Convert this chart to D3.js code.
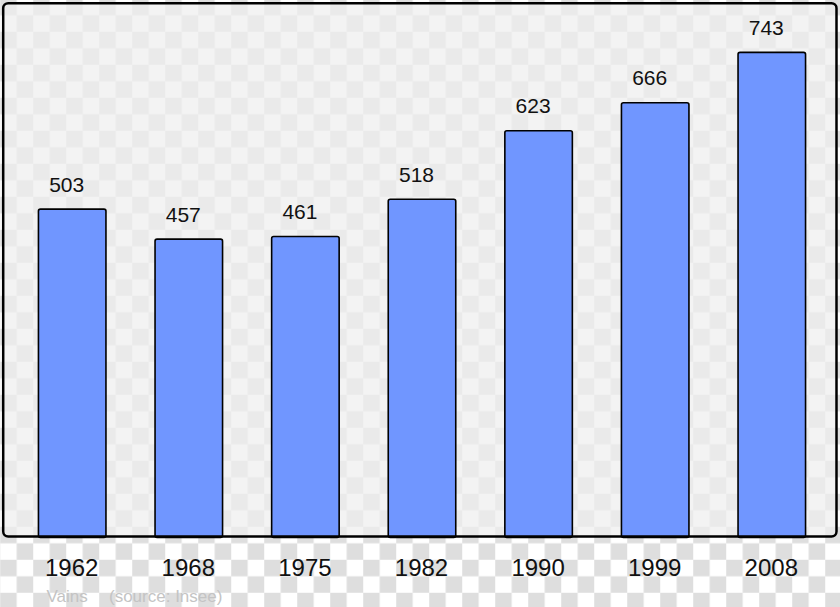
<!DOCTYPE html>
<html>
<head>
<meta charset="utf-8">
<script src="https://cdn.jsdelivr.net/npm/d3@7"></script>
<style>
  html, body { margin: 0; padding: 0; background: #fff; }
  svg { display: block; }
</style>
</head>
<body>
<svg id="chart" width="840" height="607"></svg>
<script>
const years = ["1962", "1968", "1975", "1982", "1990", "1999", "2008"];
const population = [503, 457, 461, 518, 623, 666, 743];
const placeName = "Vains";
const sourceNote = "(source: Insee)";

const W = 840, H = 607;
const svg = d3.select("#chart");
const defs = svg.append("defs");

function checker(id, light, dark) {
  const p = defs.append("pattern")
    .attr("id", id)
    .attr("patternUnits", "userSpaceOnUse")
    .attr("x", 0.2).attr("y", -1.2)
    .attr("width", 33).attr("height", 33);
  p.append("rect").attr("width", 33).attr("height", 33).attr("fill", light);
  p.append("rect").attr("x", 0).attr("y", 0).attr("width", 16.5).attr("height", 16.5).attr("fill", dark);
  p.append("rect").attr("x", 16.5).attr("y", 16.5).attr("width", 16.5).attr("height", 16.5).attr("fill", dark);
}
checker("outer", "#ffffff", "#dedede");
checker("inner", "#f3f3f3", "#eaeaea");

svg.append("rect").attr("width", W).attr("height", H).attr("fill", "url(#outer)");

const frame = { x: 3.2, y: 3.2, w: 833.3, h: 533.3 };
svg.append("rect")
  .attr("x", frame.x).attr("y", frame.y)
  .attr("width", frame.w).attr("height", frame.h)
  .attr("rx", 5).attr("fill", "url(#inner)");

const x = d3.scaleBand()
  .domain(years)
  .range([13.9, 830.1])
  .paddingInner(0.421)
  .paddingOuter(0.2105);

const y = d3.scaleLinear()
  .domain([0, 800])
  .range([537.5, 15.2]);

svg.append("g").selectAll("rect")
  .data(years)
  .join("rect")
  .attr("x", d => x(d))
  .attr("y", (d, i) => y(population[i]))
  .attr("width", x.bandwidth())
  .attr("height", (d, i) => y(0) - y(population[i]))
  .attr("rx", 2)
  .attr("fill", "#7096ff")
  .attr("stroke", "#000")
  .attr("stroke-width", 1.6);

svg.append("g").selectAll("text")
  .data(years)
  .join("text")
  .attr("x", d => x(d) + x.bandwidth() / 2 - 5.5)
  .attr("y", (d, i) => y(population[i]) - 17.5)
  .attr("text-anchor", "middle")
  .attr("font-family", "Liberation Sans, Arial, sans-serif")
  .attr("font-size", 21)
  .attr("fill", "#111")
  .text((d, i) => population[i]);

// frame border on top
svg.append("rect")
  .attr("x", frame.x).attr("y", frame.y)
  .attr("width", frame.w).attr("height", frame.h)
  .attr("rx", 5).attr("fill", "none")
  .attr("stroke", "#000").attr("stroke-width", 2.5);

// year axis labels
const axis = d3.axisBottom(x).tickSize(0).tickPadding(0);
const gAxis = svg.append("g")
  .attr("transform", "translate(-0.5,558)")
  .call(axis);
gAxis.select(".domain").remove();
gAxis.selectAll("text")
  .attr("y", 18)
  .attr("dy", null)
  .attr("font-family", "Liberation Sans, Arial, sans-serif")
  .attr("font-size", 24)
  .attr("fill", "#111");

svg.append("text")
  .attr("x", 46.5).attr("y", 602)
  .attr("font-family", "Liberation Sans, Arial, sans-serif")
  .attr("font-size", 17)
  .attr("fill", "#c4c4c4")
  .text(placeName);
svg.append("text")
  .attr("x", 109).attr("y", 602)
  .attr("font-family", "Liberation Sans, Arial, sans-serif")
  .attr("font-size", 17)
  .attr("fill", "#c4c4c4")
  .text(sourceNote);
</script>
</body>
</html>
